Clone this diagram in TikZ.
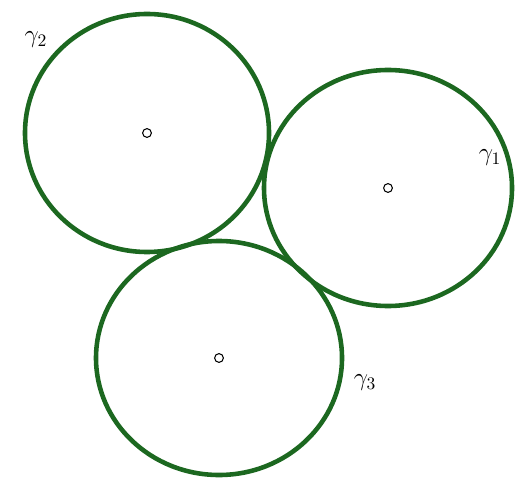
\documentclass[tikz,border=0pt]{standalone}
\definecolor{rimgreen}{RGB}{28,104,32}
\begin{document}
\begin{tikzpicture}[x=0.02cm,y=-0.02cm,
  rim/.style={draw=rimgreen,line width=2.6pt},
  pt/.style={draw,circle,inner sep=0pt,minimum size=5pt,line width=0.6pt},
  lab/.style={font=\Large}]
  \useasboundingbox (0,0) rectangle (516,479);
  % centres
  \node[pt] (c2) at (147,133) {};
  \node[pt] (c1) at (388,188) {};
  \node[pt] (c3) at (219,358) {};
  % the three circles
  \draw[rim] (c2) ellipse [x radius=122,y radius=119];
  \draw[rim] (c1) ellipse [x radius=124,y radius=118];
  \draw[rim] (c3) ellipse [x radius=123,y radius=117];
  % labels
  \node[lab] (g2) at (36,40) {$\gamma_2$};
  \node[lab] (g1) at (490,158) {$\gamma_1$};
  \node[lab] (g3) at (365,383) {$\gamma_3$};
\end{tikzpicture}
\end{document}
